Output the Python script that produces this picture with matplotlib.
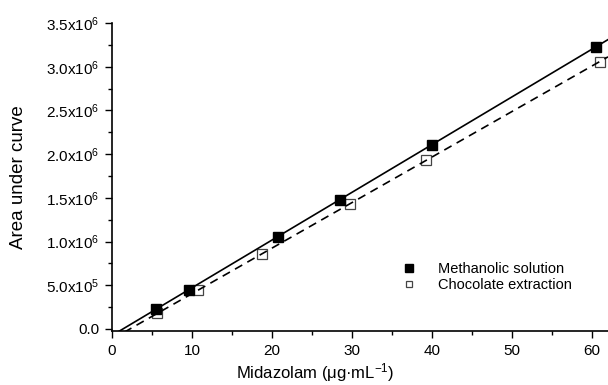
import numpy as np
import matplotlib.pyplot as plt
from matplotlib.ticker import MultipleLocator, FixedLocator

# data
conc_meth = [5.5, 9.7, 20.7, 28.5, 40.0, 60.5]
area_meth = [0.23e6, 0.45e6, 1.05e6, 1.48e6, 2.11e6, 3.23e6]
conc_choc = [5.7, 10.8, 18.7, 29.8, 39.2, 61.0]
area_choc = [0.18e6, 0.44e6, 0.86e6, 1.43e6, 1.93e6, 3.06e6]

y_ticks = [0.0, 0.5e6, 1.0e6, 1.5e6, 2.0e6, 2.5e6, 3.0e6, 3.5e6]
y_labels = ['0.0', '5.0x10$^5$', '1.0x10$^6$', '1.5x10$^6$', '2.0x10$^6$',
            '2.5x10$^6$', '3.0x10$^6$', '3.5x10$^6$']

plt.rcParams['font.family'] = ['Liberation Sans', 'DejaVu Sans']
plt.rcParams['mathtext.fontset'] = 'custom'
plt.rcParams['mathtext.rm'] = 'Liberation Sans'
plt.rcParams['mathtext.it'] = 'Liberation Sans'

fig = plt.figure(figsize=(6.08, 3.85), dpi=100)
ax = fig.add_axes([0.184, 0.139, 0.816, 0.801])

xs = np.linspace(0, 62, 200)
k1, b1 = np.polyfit(conc_meth, area_meth, 1)
k2, b2 = np.polyfit(conc_choc, area_choc, 1)

# open squares sit under the fit lines, filled ones on top
ax.plot(conc_choc, area_choc, 's', mfc='white', mec='#444444', mew=0.9,
        markersize=6.5, label='Chocolate extraction', clip_on=False, zorder=2)
ax.plot(xs, k1 * xs + b1, 'k-', lw=1.2, zorder=3)
ax.plot(xs, k2 * xs + b2, 'k--', lw=1.2, dashes=(5, 3.5), zorder=3)
ax.plot(conc_meth, area_meth, 's', color='black', markersize=7,
        label='Methanolic solution', clip_on=False, zorder=4)

ax.set_xlim(0, 62)
ax.set_ylim(-0.03e6, 3.5e6)
ax.xaxis.set_major_locator(MultipleLocator(10))
ax.xaxis.set_minor_locator(MultipleLocator(5))
ax.yaxis.set_major_locator(FixedLocator(y_ticks))
ax.yaxis.set_minor_locator(MultipleLocator(0.25e6))
ax.set_yticklabels(y_labels)
ax.tick_params(which='major', direction='out', length=5, width=1,
               labelsize=11, pad=4)
ax.tick_params(which='minor', direction='out', length=3, width=1)

for s in ['top', 'right']:
    ax.spines[s].set_visible(False)
for s in ['left', 'bottom']:
    ax.spines[s].set_linewidth(1.2)

ax.set_xlabel('Midazolam (\u03bcg\u00b7mL$^{-1}$)', fontsize=12)
ax.set_ylabel('Area under curve', fontsize=13.5)
ax.xaxis.set_label_coords(0.41, -0.095)
ax.yaxis.set_label_coords(-0.171, 0.5)

handles, labels = ax.get_legend_handles_labels()
order = [labels.index('Methanolic solution'), labels.index('Chocolate extraction')]
ax.legend([handles[i] for i in order], [labels[i] for i in order],
          loc='upper left', bbox_to_anchor=(0.585, 0.225), frameon=False,
          fontsize=10.5, handlelength=1.0, handletextpad=1.47,
          labelspacing=0.16, borderpad=0, borderaxespad=0, markerscale=0.75)

fig.savefig('out.png', dpi=100)
